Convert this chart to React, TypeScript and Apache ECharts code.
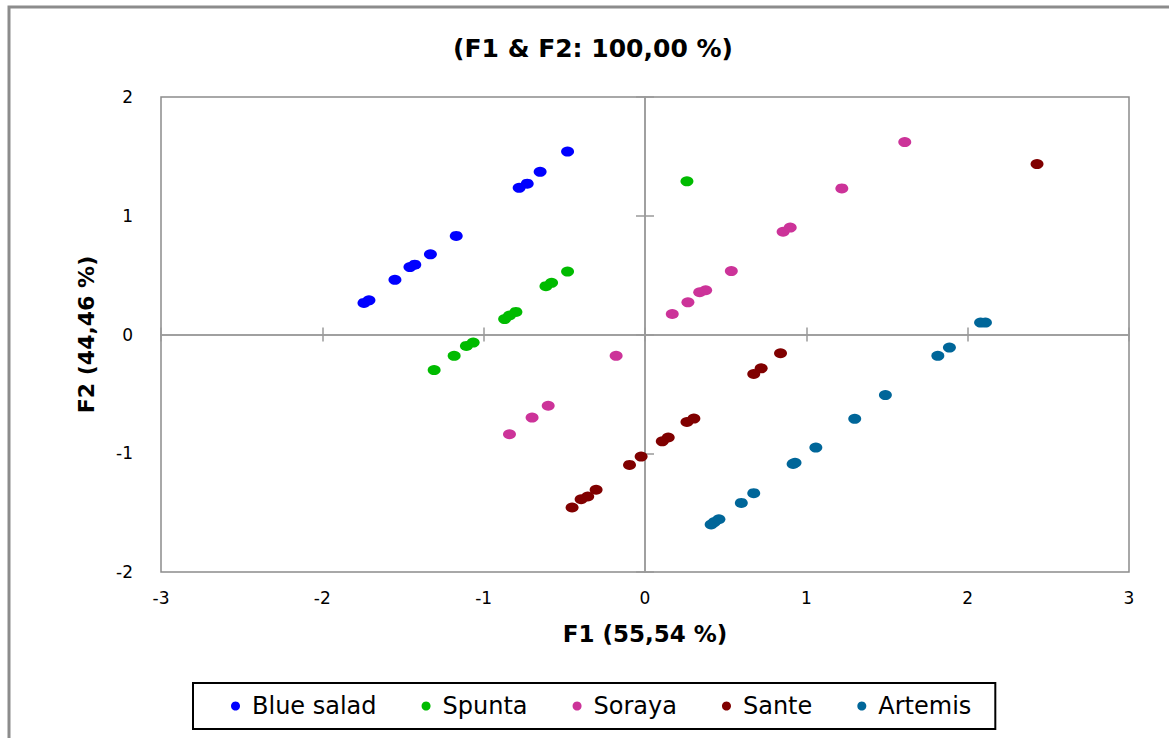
import React, { useEffect, useRef } from "react";
import * as echarts from "echarts";

const seriesNames = ["Blue salad", "Spunta", "Soraya", "Sante", "Artemis"];
const seriesColors = ["#0000FF", "#00BB00", "#CC3399", "#800000", "#006699"];

const blueSalad: number[][] = [
  [-0.48, 1.54], [-0.65, 1.37], [-0.78, 1.235], [-0.73, 1.27], [-1.17, 0.83],
  [-1.33, 0.675], [-1.457, 0.568], [-1.427, 0.588], [-1.55, 0.46], [-1.742, 0.266], [-1.711, 0.288],
];
const spunta: number[][] = [
  [0.26, 1.29], [-0.48, 0.53], [-0.614, 0.407], [-0.579, 0.435], [-0.87, 0.13], [-0.84, 0.16],
  [-0.80, 0.19], [-1.107, -0.096], [-1.065, -0.068], [-1.183, -0.18], [-1.307, -0.30],
];
const soraya: number[][] = [
  [1.61, 1.62], [1.22, 1.23], [0.856, 0.865], [0.9, 0.9], [0.535, 0.534], [0.339, 0.356],
  [0.376, 0.373], [0.266, 0.271], [0.169, 0.173], [-0.179, -0.18], [-0.6, -0.6], [-0.7, -0.7], [-0.84, -0.84],
];
const sante: number[][] = [
  [2.43, 1.435], [0.84, -0.158], [0.674, -0.333], [0.72, -0.285], [0.26, -0.737], [0.303, -0.708],
  [0.107, -0.9], [0.144, -0.867], [-0.024, -1.028], [-0.096, -1.098], [-0.303, -1.307],
  [-0.396, -1.387], [-0.355, -1.364], [-0.452, -1.457],
];
const artemis: number[][] = [
  [2.08, 0.1], [2.11, 0.1], [1.887, -0.11], [1.815, -0.18], [1.49, -0.51], [1.3, -0.71],
  [1.059, -0.952], [0.918, -1.09], [0.93, -1.08], [0.674, -1.336], [0.597, -1.418],
  [0.41, -1.6], [0.43, -1.58], [0.458, -1.556],
];
const allData = [blueSalad, spunta, soraya, sante, artemis];

const chartTitle = "(F1 & F2: 100,00 %)";
const xTitle = "F1 (55,54 %)";
const yTitle = "F2 (44,46 %)";
const FONT = "DejaVu Sans";

export default function App() {
  const ref = useRef<HTMLDivElement>(null);
  useEffect(() => {
    if (!ref.current) return;
    const chart = echarts.init(ref.current, null, { renderer: "svg" });
    const zeroLine = { show: true, onZero: true, onZeroAxisIndex: 0, lineStyle: { color: "#9a9a9a", width: 1.5 } };
    const xBase = { type: "value", min: -3, max: 3, interval: 1, position: "bottom", splitLine: { show: false } };
    const yBase = { type: "value", min: -2, max: 2, interval: 1, position: "left", splitLine: { show: false } };
    chart.setOption({
      animation: false,
      backgroundColor: "#ffffff",
      textStyle: { fontFamily: FONT },
      title: {
        text: chartTitle,
        left: 588,
        textAlign: "center",
        top: 31,
        textStyle: { fontFamily: FONT, fontSize: 25, fontWeight: "bold", color: "#000" },
      },
      graphic: [
        {
          type: "rect",
          shape: { x: 9, y: 7, width: 1300, height: 900 },
          style: { fill: "none", stroke: "#8c8c8c", lineWidth: 3 },
          silent: true,
        },
      ],
      legend: {
        data: seriesNames,
        left: 193,
        top: 683,
        orient: "horizontal",
        icon: "circle",
        itemWidth: 9,
        itemHeight: 9,
        itemGap: 45,
        padding: [11, 24, 11, 38],
        borderColor: "#000",
        borderWidth: 2,
        textStyle: { fontFamily: FONT, fontSize: 24, color: "#000", padding: [0, 0, 0, 7] },
      },
      grid: {
        left: 161,
        top: 97,
        right: 40,
        bottom: 166,
        show: true,
        borderColor: "#8c8c8c",
        borderWidth: 1.5,
        backgroundColor: "transparent",
      },
      xAxis: [
        {
          ...xBase,
          axisLine: { show: false, onZero: false },
          axisTick: { show: false },
          axisLabel: { show: true, fontFamily: FONT, fontSize: 17, color: "#000", margin: 17 },
          name: xTitle,
          nameLocation: "middle",
          nameGap: 50,
          nameTextStyle: { fontFamily: FONT, fontSize: 23, fontWeight: "bold", color: "#000" },
        },
        {
          ...xBase,
          axisLine: zeroLine,
          axisTick: { show: true, inside: true, length: 7, lineStyle: { color: "#9a9a9a", width: 1.5 } },
          axisLabel: { show: false },
        },
        {
          ...xBase,
          axisLine: zeroLine,
          axisTick: { show: true, inside: false, length: 7, lineStyle: { color: "#9a9a9a", width: 1.5 } },
          axisLabel: { show: false },
        },
      ],
      yAxis: [
        {
          ...yBase,
          axisLine: { show: false, onZero: false },
          axisTick: { show: false },
          axisLabel: { show: true, fontFamily: FONT, fontSize: 17, color: "#000", margin: 28 },
          name: yTitle,
          nameLocation: "middle",
          nameGap: 64,
          nameRotate: 90,
          nameTextStyle: { fontFamily: FONT, fontSize: 22, fontWeight: "bold", color: "#000" },
        },
        {
          ...yBase,
          axisLine: zeroLine,
          axisTick: { show: true, inside: true, length: 9, lineStyle: { color: "#9a9a9a", width: 1.5 } },
          axisLabel: { show: false },
        },
        {
          ...yBase,
          axisLine: zeroLine,
          axisTick: { show: true, inside: false, length: 9, lineStyle: { color: "#9a9a9a", width: 1.5 } },
          axisLabel: { show: false },
        },
      ],
      series: seriesNames.map((name, i) => ({
        name,
        type: "scatter",
        xAxisIndex: 0,
        yAxisIndex: 0,
        data: allData[i],
        symbol: "circle",
        symbolSize: [13, 10],
        itemStyle: { color: seriesColors[i], opacity: 1 },
      })),
    });
    return () => chart.dispose();
  }, []);
  return (
    <div
      ref={ref}
      style={{ position: "fixed", left: 0, top: 0, width: 1169, height: 738, background: "#fff" }}
    />
  );
}
